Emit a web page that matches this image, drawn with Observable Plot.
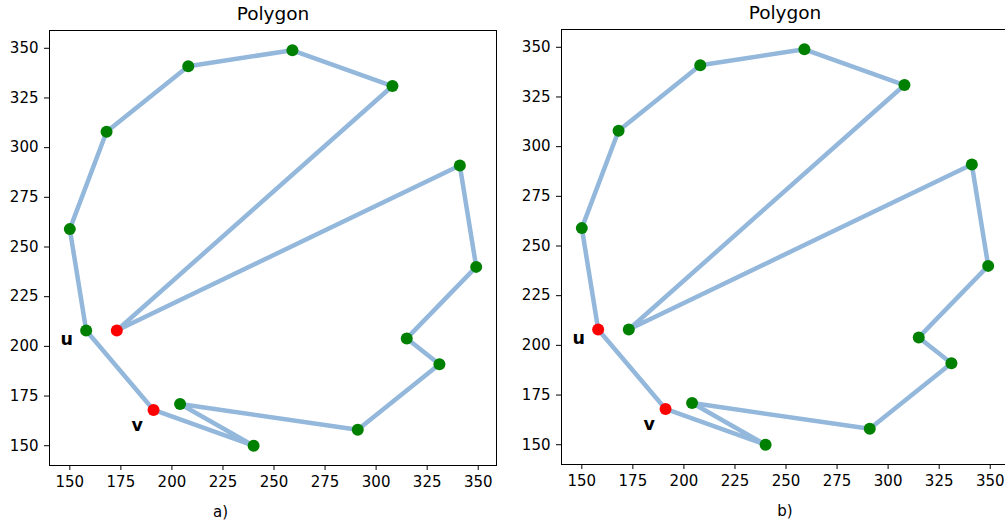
<!DOCTYPE html>
<html>
<head>
<meta charset="utf-8">
<script src="https://cdn.jsdelivr.net/npm/d3@7"></script>
<script src="https://cdn.jsdelivr.net/npm/@observablehq/plot@0.6"></script>
<style>
  html, body { margin: 0; padding: 0; background: #fff; overflow: hidden; }
  #wrap { position: relative; width: 1005px; height: 525px; overflow: hidden; background: #fff; }
  .panel { position: absolute; top: 0; }
</style>
</head>
<body>
<div id="wrap"></div>
<script>
// Polygon vertices (in drawing order; the polygon is closed)
const xs = [173, 308, 259, 208, 168, 150, 158, 191, 240, 204, 291, 331, 315, 349, 341];
const ys = [208, 331, 349, 341, 308, 259, 208, 168, 150, 171, 158, 191, 204, 240, 291];

// Highlighted (red) vertex indices per panel
const redA = [0, 7];
const redB = [6, 7];

// Point labels
const labelText = ["u", "v"];
const labelX = [148.5, 183];
const labelY = [200.5, 157.5];

// Axis ticks
const xTicks = [150, 175, 200, 225, 250, 275, 300, 325, 350];
const yTicks = [150, 175, 200, 225, 250, 275, 300, 325, 350];

const titles = ["Polygon", "Polygon"];
const captions = ["a)", "b)"];

const pts = xs.map((x, i) => ({x, y: ys[i], i}));
const closed = [...pts, pts[0]];
const labels = labelText.map((t, i) => ({t, x: labelX[i], y: labelY[i]}));

function panel(red, title, caption, m) {
  return Plot.plot({
    width: m.width,
    height: 525,
    marginLeft: m.left,
    marginRight: m.right,
    marginTop: m.top,
    marginBottom: m.bottom,
    style: {fontFamily: "DejaVu Sans", fontSize: "15px", color: "#000", background: "transparent", overflow: "visible"},
    x: {domain: [140.05, 358.95], ticks: xTicks, label: null, tickSize: 5, tickPadding: 6},
    y: {domain: [140.05, 358.95], ticks: yTicks, label: null, tickSize: 5, tickPadding: 6},
    marks: [
      Plot.frame({stroke: "#000", strokeWidth: 1}),
      Plot.line(closed, {x: "x", y: "y", stroke: "#93b8dc", strokeWidth: 4.5, strokeLinejoin: "round", strokeLinecap: "round"}),
      Plot.dot(pts, {x: "x", y: "y", r: 6, fill: d => red.includes(d.i) ? "#ff0000" : "#008000", stroke: "none"}),
      Plot.text(labels, {x: "x", y: "y", text: "t", fontWeight: "bold", fontSize: 17.5, lineAnchor: "bottom", textAnchor: "middle"}),
      Plot.text([title], {frameAnchor: "top", dy: -10.5, lineAnchor: "bottom", fontSize: 18.5}),
      Plot.text([caption], {frameAnchor: "bottom", dy: 47, dx: m.capDx, lineAnchor: "middle", fontSize: 15})
    ]
  });
}

const wrap = document.getElementById("wrap");
const a = panel(redA, titles[0], captions[0], {width: 502, left: 49, right: 6, top: 30, bottom: 60, capDx: -52.5});
a.classList.add("panel");
a.style.left = "0px";
wrap.appendChild(a);

const b = panel(redB, titles[1], captions[1], {width: 506, left: 56, right: 3, top: 29, bottom: 61, capDx: 0});
b.classList.add("panel");
b.style.left = "505px";
wrap.appendChild(b);
</script>
</body>
</html>
